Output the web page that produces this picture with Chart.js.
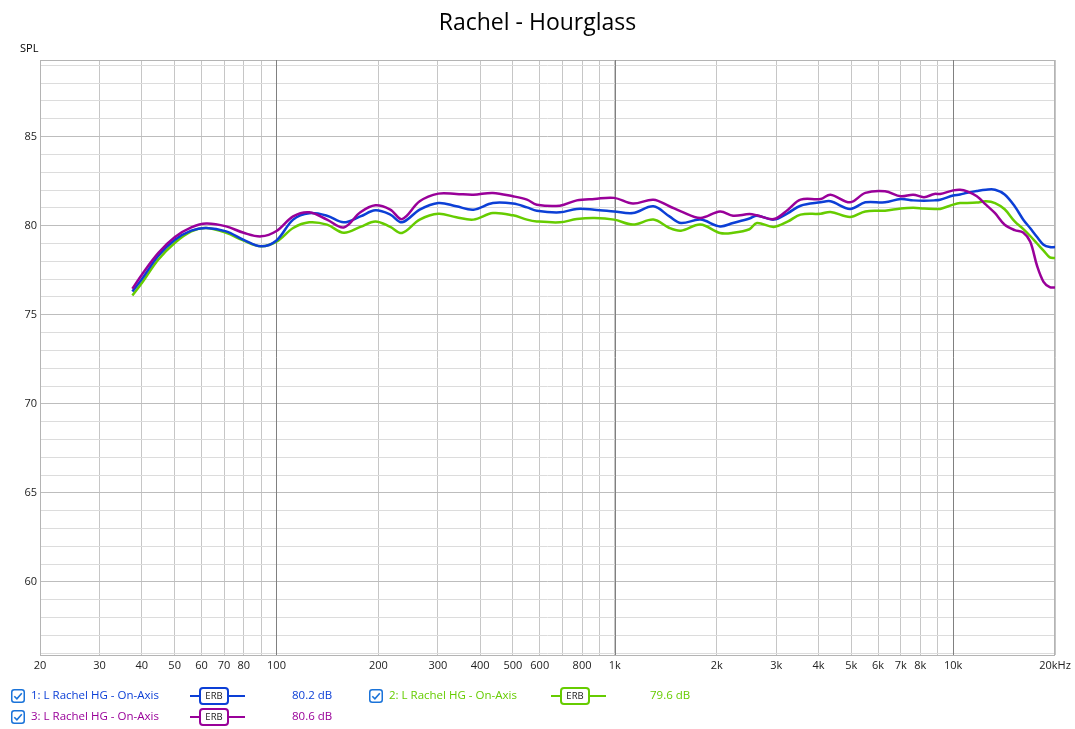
<!DOCTYPE html>
<html>
<head>
<meta charset="utf-8">
<script src="https://cdn.jsdelivr.net/npm/chart.js@4.4.1/dist/chart.umd.min.js"></script>
<style>
  body { margin: 0; background: #fff; font-family: "Open Sans", sans-serif; }
  #wrap { position: relative; width: 1075px; height: 729px; overflow: hidden; }
  #chart { position: absolute; left: 0; top: 0; }
  #title { position: absolute; left: 0; width: 1075px; top: 5px; text-align: center; font-size: 23px; color: #000; }
  #spl { position: absolute; left: 20px; top: 40px; font-size: 11px; color: #000; }
  .leg { position: absolute; font-size: 11.5px; white-space: nowrap; line-height: 14px; }
  .erb { position: absolute; height: 2px; }
  .erb span { position: absolute; top: -8px; height: 14px; border: 2px solid; border-radius: 4px; background: #fff;
              font-size: 9.5px; line-height: 14px; text-align: center; color: #222; }
  svg.cb { position: absolute; }
</style>
</head>
<body>
<div id="wrap">
  <canvas id="chart" width="1075" height="729"></canvas>
  <div id="title">Rachel - Hourglass</div>
  <div id="spl">SPL</div>
  <div id="legend"></div>
</div>
<script>
// values (Hz / dB SPL)
const freqHz = [37.5, 40, 44.7, 50, 56, 62, 71, 80, 90, 100, 112, 125, 141, 158, 177, 196, 217, 235,
  265, 301, 340, 382, 436, 500, 550, 588, 688, 772, 870, 995, 1131, 1300, 1450, 1568,
  1790, 2046, 2236, 2500, 2630, 2950, 3250, 3540, 4060, 4340, 4960, 5500, 6290, 7000, 7620, 8200,
  8800, 9150, 10000, 10480, 11000, 11750, 12500, 13300, 14200, 15200, 16100, 16900, 17700, 18500, 19300, 20000];

const splBlue = [76.3, 77.0, 78.3, 79.2, 79.72, 79.87, 79.68, 79.2, 78.84, 79.17, 80.34, 80.7, 80.56, 80.19, 80.52, 80.86, 80.62, 80.19,
  80.9, 81.27, 81.09, 80.9, 81.27, 81.24, 81.03, 80.84, 80.75, 80.94, 80.9, 80.8, 80.71, 81.09, 80.52, 80.15,
  80.34, 79.96, 80.15, 80.4, 80.56, 80.34, 80.71, 81.12, 81.31, 81.37, 80.94, 81.31, 81.31, 81.5, 81.42, 81.4,
  81.42, 81.46, 81.69, 81.75, 81.85, 81.95, 82.02, 82.02, 81.75, 81.09, 80.35, 79.85, 79.36, 78.93, 78.8, 78.8];

const splGreen = [76.08, 76.78, 78.09, 79.03, 79.68, 79.87, 79.6, 79.16, 78.84, 79.1, 79.87, 80.19, 80.06, 79.6, 79.93, 80.24, 79.93, 79.59,
  80.34, 80.67, 80.47, 80.34, 80.71, 80.58, 80.34, 80.24, 80.19, 80.37, 80.43, 80.34, 80.06, 80.34, 79.87, 79.72,
  80.06, 79.59, 79.6, 79.8, 80.15, 79.93, 80.24, 80.62, 80.67, 80.77, 80.49, 80.8, 80.84, 80.96, 81.0, 80.96,
  80.94, 80.94, 81.18, 81.27, 81.27, 81.3, 81.37, 81.27, 80.92, 80.24, 79.82, 79.42, 79.0, 78.6, 78.22, 78.18];

const splPurple = [76.46, 77.25, 78.46, 79.35, 79.9, 80.12, 79.96, 79.6, 79.4, 79.7, 80.52, 80.75, 80.34, 79.9, 80.75, 81.14, 80.9, 80.37,
  81.37, 81.8, 81.78, 81.74, 81.84, 81.65, 81.46, 81.18, 81.12, 81.42, 81.5, 81.56, 81.24, 81.46, 81.09, 80.8,
  80.43, 80.8, 80.56, 80.65, 80.58, 80.37, 80.9, 81.46, 81.5, 81.74, 81.31, 81.84, 81.93, 81.65, 81.74, 81.6,
  81.78, 81.78, 81.98, 82.02, 81.93, 81.65, 81.18, 80.7, 80.05, 79.75, 79.62, 79.1, 77.75, 76.85, 76.55, 76.53];

const xTicks = [20, 30, 40, 50, 60, 70, 80, 90, 100, 200, 300, 400, 500, 600, 700, 800, 900,
  1000, 2000, 3000, 4000, 5000, 6000, 7000, 8000, 9000, 10000, 20000];
const xLabels = ['20', '30', '40', '50', '60', '70', '80', '', '100', '200', '300', '400', '500', '600', '', '800', '',
  '1k', '2k', '3k', '4k', '5k', '6k', '7k', '8k', '', '10k', '20kHz'];
const xDecades = [100, 1000, 10000];

const seriesNames = ['1: L Rachel HG - On-Axis', '2: L Rachel HG - On-Axis', '3: L Rachel HG - On-Axis'];
const seriesAvg = ['80.2 dB', '79.6 dB', '80.6 dB'];
const seriesColors = ['#0c3fd6', '#66cc00', '#990099'];
const seriesValues = [splBlue, splGreen, splPurple];

const yMin = 55.9, yMax = 89.3;

const datasets = seriesValues.map((vals, i) => ({
  label: seriesNames[i],
  data: freqHz.map((f, j) => ({ x: f, y: vals[j] })),
  borderColor: seriesColors[i],
  borderWidth: 2.5,
  pointRadius: 0,
  tension: 0.35,
  fill: false,
  order: [1, 2, 0][i]
}));

// plot frame + dark decade lines drawn over the light grid
const frame = {
  id: 'frame',
  beforeDatasetsDraw(chart) {
    const a = chart.chartArea, ctx = chart.ctx, xs = chart.scales.x;
    ctx.save();
    ctx.strokeStyle = '#b4b4b4';
    ctx.lineWidth = 1;
    ctx.strokeRect(a.left + 0.5, a.top + 0.5, a.right - a.left - 1, a.bottom - a.top);
    ctx.strokeStyle = '#808080';
    xDecades.forEach(v => {
      const px = Math.round(xs.getPixelForValue(v)) + 0.5;
      ctx.beginPath();
      ctx.moveTo(px, a.top);
      ctx.lineTo(px, a.bottom);
      ctx.stroke();
    });
    ctx.restore();
  }
};

new Chart(document.getElementById('chart'), {
  type: 'line',
  data: { datasets },
  plugins: [frame],
  options: {
    responsive: false,
    devicePixelRatio: 1,
    animation: false,
    layout: { padding: { top: 60, right: 20, bottom: 49, left: 0 } },
    plugins: { legend: { display: false }, tooltip: { enabled: false } },
    scales: {
      x: {
        type: 'logarithmic',
        min: 20, max: 20000,
        afterBuildTicks: s => { s.ticks = xTicks.map(v => ({ value: v })); },
        afterFit: s => { s.height = 25; },
        ticks: {
          autoSkip: false, maxRotation: 0, padding: 4,
          color: '#222', font: { family: 'Open Sans', size: 11 },
          callback: (v, i) => xLabels[i]
        },
        grid: { drawTicks: false, color: '#c6c6c6' },
        border: { display: false }
      },
      y: {
        min: yMin, max: yMax,
        afterBuildTicks: s => {
          const t = [];
          for (let v = Math.ceil(yMin); v <= Math.floor(yMax); v++) t.push({ value: v });
          s.ticks = t;
        },
        afterFit: s => { s.width = 40; },
        ticks: {
          autoSkip: false, padding: 3,
          color: '#222', font: { family: 'Open Sans', size: 11 },
          callback: v => (v % 5 === 0 ? String(v) : '')
        },
        grid: {
          drawTicks: false,
          color: c => (c.tick.value % 5 === 0 ? '#bdbdbd' : '#dcdcdc')
        },
        border: { display: false }
      }
    }
  }
});

// legend below the plot, laid out like the REW window
const legendPos = [
  { cb: 11, text: 31, erb: 190, avg: 292, y: 696 },
  { cb: 369, text: 389, erb: 551, avg: 650, y: 696 },
  { cb: 11, text: 31, erb: 190, avg: 292, y: 717 }
];
const legend = document.getElementById('legend');
seriesNames.forEach((name, i) => {
  const p = legendPos[i], col = seriesColors[i];
  legend.insertAdjacentHTML('beforeend',
    `<svg class="cb" style="left:${p.cb}px;top:${p.y - 7}px" width="14" height="14" viewBox="0 0 14 14">
       <rect x="0.75" y="0.75" width="12.5" height="12.5" rx="2.5" fill="#fff" stroke="#1a73d9" stroke-width="1.5"/>
       <path d="M3.3 7.2 L5.9 9.8 L10.8 4.2" fill="none" stroke="#1a73d9" stroke-width="1.6"/>
     </svg>
     <div class="leg" style="left:${p.text}px;top:${p.y - 8}px;color:${col}">${name}</div>
     <div class="erb" style="left:${p.erb}px;top:${p.y - 1}px;width:55px;background:${col}">
       <span style="left:9px;width:26px;border-color:${col}">ERB</span>
     </div>
     <div class="leg" style="left:${p.avg}px;top:${p.y - 8}px;color:${col}">${seriesAvg[i]}</div>`);
});
</script>
</body>
</html>
